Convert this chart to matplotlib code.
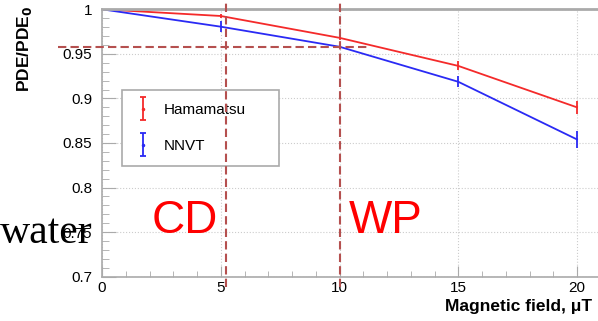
import matplotlib
matplotlib.use("Agg")
import matplotlib.pyplot as plt
from matplotlib.container import ErrorbarContainer
from matplotlib.legend_handler import HandlerErrorbar
from matplotlib.ticker import MultipleLocator, FuncFormatter

plt.rcParams["font.family"] = ["Liberation Sans", "DejaVu Sans"]

# data
field = [0, 5, 10, 15, 20]
hama = [1.0, 0.9925, 0.968, 0.9365, 0.890]
hama_err = [0.0, 0.002, 0.002, 0.005, 0.007]
nnvt = [1.0, 0.9805, 0.958, 0.9187, 0.854]
nnvt_err = [0.0, 0.006, 0.003, 0.006, 0.010]
cuts_x = [5.2, 10.0]
cut_y = 0.9575
labels = ["Hamamatsu", "NNVT"]

red = "#f42a2a"
blue = "#2a2af4"
brown = "#b5504f"
gray = "#aaaaaa"

fig = plt.figure(figsize=(5.98, 3.21), dpi=100)
ax = fig.add_axes([102 / 598, 44.3 / 321, 1 - 102 / 598, 267.4 / 321])

ax.errorbar(field, hama, yerr=hama_err, color=red, lw=1.3, elinewidth=1.3, capsize=0)
ax.errorbar(field, nnvt, yerr=nnvt_err, color=blue, lw=1.3, elinewidth=1.3, capsize=0)

# proxies for the ROOT-style legend icons (outside the view)
h1 = ax.errorbar([-50], [0], yerr=[1], fmt=".", ms=3, color=red, elinewidth=1.3, capsize=2.5, capthick=1.3)
h2 = ax.errorbar([-50], [0], yerr=[1], fmt=".", ms=3, color=blue, elinewidth=1.3, capsize=2.5, capthick=1.3)

ax.set_xlim(0, 496 / 23.75)
ax.set_ylim(0.7, 1.0)

# working-point guide lines
for xc in cuts_x:
    ax.plot([xc, xc], [0.6884, 1.0105], color=brown, lw=1.5, ls=(0, (4, 2)), clip_on=False, zorder=6)
ax.plot([-1.85, 11.2], [cut_y, cut_y], color=brown, lw=1.5, ls=(0, (4, 2)), clip_on=False, zorder=6)

ax.text(2.1, 0.749, "CD", color="red", fontsize=33)
ax.text(10.4, 0.749, "WP", color="red", fontsize=33)

# ROOT-like axes
ax.xaxis.set_major_locator(MultipleLocator(5))
ax.xaxis.set_minor_locator(MultipleLocator(1))
ax.yaxis.set_major_locator(MultipleLocator(0.05))
ax.yaxis.set_minor_locator(MultipleLocator(0.01))
ax.yaxis.set_major_formatter(FuncFormatter(lambda v, p: "%g" % round(v, 3)))
ax.tick_params(which="both", direction="in", color=gray, labelsize=11)
ax.tick_params(axis="y", which="major", length=10, pad=7)
ax.tick_params(axis="y", which="minor", length=5)
ax.tick_params(axis="x", which="major", length=8, pad=3)
ax.tick_params(axis="x", which="minor", length=4)
ax.grid(True, which="major", color="#cccccc", ls=":", lw=0.8)
for s in ["left", "bottom"]:
    ax.spines[s].set_color(gray)
    ax.spines[s].set_linewidth(1.2)
ax.spines["top"].set_color(gray)
ax.spines["top"].set_linewidth(2)
ax.spines["right"].set_visible(False)

leg = ax.legend([h1, h2], labels, loc="upper left",
                bbox_to_anchor=(122 / 598, 1 - 157 / 321, 157 / 598, 67 / 321),
                bbox_transform=fig.transFigure, mode="expand", borderaxespad=0,
                fontsize=11, frameon=True, fancybox=False, edgecolor=gray,
                handlelength=1.0, labelspacing=1.45, borderpad=0.85, handletextpad=0.9,
                handler_map={ErrorbarContainer: HandlerErrorbar(yerr_size=0.75)})
leg.get_frame().set_linewidth(1.2)
leg.get_frame().set_facecolor("white")
leg.get_frame().set_alpha(1)

fig.text(25 / 598, 1 - 6 / 321, r"PDE/PDE$_\mathbf{0}$", rotation=90, ha="center", va="top",
         fontsize=12.5, fontweight="bold")
fig.text(445 / 598, 1 - 307 / 321, "Magnetic field, \u03bcT", ha="left", va="center",
         fontsize=12.5, fontweight="bold")
fig.text(0, 1 - 243 / 321, "water", ha="left", va="baseline",
         fontsize=30, family="Liberation Serif", color="black")

fig.savefig("out.png", dpi=100)
